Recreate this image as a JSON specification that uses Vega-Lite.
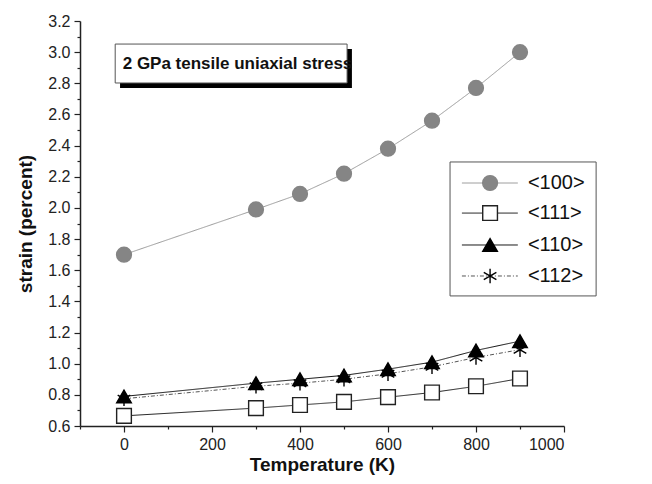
{
  "$schema": "https://vega.github.io/schema/vega-lite/v6.json",
  "autosize": {"type": "none"},
  "width": 484,
  "height": 405,
  "padding": {"left": 80, "top": 21, "right": 88, "bottom": 58},
  "background": "white",
  "config": {
    "font": "Liberation Sans",
    "view": {"stroke": null},
    "axis": {"grid": false, "domainColor": "#222", "tickColor": "#222", "domainWidth": 1.5, "tickWidth": 1.2, "labelFont": "Liberation Sans", "labelFontSize": 16, "labelColor": "#222", "titleFont": "Liberation Sans", "titleFontSize": 19, "titleFontWeight": "bold", "titleColor": "#111"}
  },
  "resolve": {"axis": {"y": "independent"}},
  "datasets": {
    "series": [
      {"T": 0, "strain": 1.70, "s": "<100>"},
      {"T": 300, "strain": 1.99, "s": "<100>"},
      {"T": 400, "strain": 2.09, "s": "<100>"},
      {"T": 500, "strain": 2.22, "s": "<100>"},
      {"T": 600, "strain": 2.38, "s": "<100>"},
      {"T": 700, "strain": 2.56, "s": "<100>"},
      {"T": 800, "strain": 2.77, "s": "<100>"},
      {"T": 900, "strain": 3.00, "s": "<100>"},
      {"T": 0, "strain": 0.665, "s": "<111>"},
      {"T": 300, "strain": 0.715, "s": "<111>"},
      {"T": 400, "strain": 0.735, "s": "<111>"},
      {"T": 500, "strain": 0.755, "s": "<111>"},
      {"T": 600, "strain": 0.785, "s": "<111>"},
      {"T": 700, "strain": 0.815, "s": "<111>"},
      {"T": 800, "strain": 0.855, "s": "<111>"},
      {"T": 900, "strain": 0.905, "s": "<111>"},
      {"T": 0, "strain": 0.79, "s": "<110>"},
      {"T": 300, "strain": 0.875, "s": "<110>"},
      {"T": 400, "strain": 0.90, "s": "<110>"},
      {"T": 500, "strain": 0.925, "s": "<110>"},
      {"T": 600, "strain": 0.965, "s": "<110>"},
      {"T": 700, "strain": 1.01, "s": "<110>"},
      {"T": 800, "strain": 1.085, "s": "<110>"},
      {"T": 900, "strain": 1.145, "s": "<110>"},
      {"T": 0, "strain": 0.775, "s": "<112>"},
      {"T": 300, "strain": 0.855, "s": "<112>"},
      {"T": 400, "strain": 0.875, "s": "<112>"},
      {"T": 500, "strain": 0.90, "s": "<112>"},
      {"T": 600, "strain": 0.935, "s": "<112>"},
      {"T": 700, "strain": 0.98, "s": "<112>"},
      {"T": 800, "strain": 1.04, "s": "<112>"},
      {"T": 900, "strain": 1.09, "s": "<112>"}
    ],
    "legend": [
      {"s": "<100>", "y": 2.16, "x1": 768, "x2": 895, "xs": 832, "xt": 918},
      {"s": "<111>", "y": 1.967, "x1": 768, "x2": 895, "xs": 832, "xt": 918},
      {"s": "<110>", "y": 1.762, "x1": 768, "x2": 895, "xs": 832, "xt": 918},
      {"s": "<112>", "y": 1.563, "x1": 768, "x2": 895, "xs": 832, "xt": 918}
    ]
  },
  "layer": [
    {
      "data": {"name": "series"},
      "mark": {"type": "line", "strokeWidth": 1},
      "encoding": {
        "x": {"field": "T", "type": "quantitative", "scale": {"domain": [-100, 1000], "nice": false, "zero": false},
          "title": "Temperature (K)",
          "axis": {"values": [-100, 0, 100, 200, 300, 400, 500, 600, 700, 800, 900, 1000],
            "format": "d",
            "labelOverlap": false,
            "labelExpr": "datum.value % 200 === 0 ? datum.label : ''",
            "tickSize": {"condition": {"test": "datum.value % 200 === 0", "value": 6}, "value": 3},
            "labelPadding": 4, "titlePadding": 3}},
        "y": {"field": "strain", "type": "quantitative", "scale": {"domain": [0.6, 3.2], "nice": false, "zero": false},
          "title": "strain (percent)",
          "axis": {"orient": "left", "values": [0.6, 0.8, 1.0, 1.2, 1.4, 1.6, 1.8, 2.0, 2.2, 2.4, 2.6, 2.8, 3.0, 3.2],
            "format": ".1f",
            "labelOverlap": false,
            "tickSize": 6,
            "labelPadding": 4, "titlePadding": 12}},
        "detail": {"field": "s"},
        "color": {"field": "s", "type": "nominal", "scale": {"domain": ["<100>", "<111>", "<110>", "<112>"], "range": ["#9a9a9a", "#222222", "#111111", "#555555"]}, "legend": null},
        "strokeDash": {"field": "s", "type": "nominal", "scale": {"domain": ["<100>", "<111>", "<110>", "<112>"], "range": [[1, 0], [1, 0], [1, 0], [4, 2, 1, 2]]}, "legend": null}
      }
    },
    {
      "data": {"values": [{"x": -9, "x2": 518, "y": 3.02, "y2": 2.77}]},
      "mark": {"type": "rect", "fill": "black"},
      "encoding": {
        "x": {"field": "x", "type": "quantitative"},
        "x2": {"field": "x2"},
        "y": {"field": "y", "type": "quantitative", "axis": null},
        "y2": {"field": "y2"}
      }
    },
    {
      "data": {"values": [{"x": -20, "x2": 507, "y": 3.052, "y2": 2.802}]},
      "mark": {"type": "rect", "fill": "white", "stroke": "#555", "strokeWidth": 1},
      "encoding": {
        "x": {"field": "x", "type": "quantitative"},
        "x2": {"field": "x2"},
        "y": {"field": "y", "type": "quantitative", "axis": null},
        "y2": {"field": "y2"}
      }
    },
    {
      "data": {"values": [{"x": 258, "y": 2.924, "t": "2 GPa tensile uniaxial stress"}]},
      "mark": {"type": "text", "fontSize": 17, "fontWeight": "bold", "font": "Liberation Sans", "color": "#111", "align": "center", "baseline": "middle"},
      "encoding": {
        "x": {"field": "x", "type": "quantitative"},
        "y": {"field": "y", "type": "quantitative", "axis": null},
        "text": {"field": "t"}
      }
    },
    {
      "data": {"name": "series"},
      "mark": {"type": "point", "filled": false, "opacity": 1, "strokeWidth": 1.4},
      "encoding": {
        "x": {"field": "T", "type": "quantitative"},
        "y": {"field": "strain", "type": "quantitative",
          "axis": {"orient": "left", "title": null, "labels": false, "domain": false, "tickSize": 3,
            "values": [0.7, 0.9, 1.1, 1.3, 1.5, 1.7, 1.9, 2.1, 2.3, 2.5, 2.7, 2.9, 3.1]}},
        "shape": {"field": "s", "type": "nominal", "scale": {"domain": ["<100>", "<111>", "<110>", "<112>"], "range": ["circle", "square", "triangle-up", "M0,-1L0,1M-0.87,-0.5L0.87,0.5M-0.87,0.5L0.87,-0.5"]}, "legend": null},
        "fill": {"field": "s", "type": "nominal", "scale": {"domain": ["<100>", "<111>", "<110>", "<112>"], "range": ["#858585", "white", "black", "transparent"]}, "legend": null},
        "stroke": {"field": "s", "type": "nominal", "scale": {"domain": ["<100>", "<111>", "<110>", "<112>"], "range": ["#858585", "#222", "black", "black"]}, "legend": null},
        "size": {"field": "s", "type": "nominal", "scale": {"domain": ["<100>", "<111>", "<110>", "<112>"], "range": [220, 210, 280, 340]}, "legend": null}
      }
    },
    {
      "data": {"values": [{"x": 741, "x2": 1073, "y": 2.295, "y2": 1.435}]},
      "mark": {"type": "rect", "fill": "white", "stroke": "#555", "strokeWidth": 1},
      "encoding": {
        "x": {"field": "x", "type": "quantitative"},
        "x2": {"field": "x2"},
        "y": {"field": "y", "type": "quantitative", "axis": null},
        "y2": {"field": "y2"}
      }
    },
    {
      "data": {"name": "legend"},
      "mark": {"type": "rule", "strokeWidth": 1},
      "encoding": {
        "x": {"field": "x1", "type": "quantitative"},
        "x2": {"field": "x2"},
        "y": {"field": "y", "type": "quantitative", "axis": null},
        "color": {"field": "s", "type": "nominal", "legend": null},
        "strokeDash": {"field": "s", "type": "nominal", "legend": null}
      }
    },
    {
      "data": {"name": "legend"},
      "mark": {"type": "point", "filled": false, "opacity": 1, "strokeWidth": 1.4},
      "encoding": {
        "x": {"field": "xs", "type": "quantitative"},
        "y": {"field": "y", "type": "quantitative", "axis": null},
        "shape": {"field": "s", "type": "nominal", "legend": null},
        "fill": {"field": "s", "type": "nominal", "legend": null},
        "stroke": {"field": "s", "type": "nominal", "legend": null},
        "size": {"field": "s", "type": "nominal", "legend": null}
      }
    },
    {
      "data": {"name": "legend"},
      "mark": {"type": "text", "fontSize": 20, "font": "Liberation Sans", "color": "#111", "align": "left", "baseline": "middle"},
      "encoding": {
        "x": {"field": "xt", "type": "quantitative"},
        "y": {"field": "y", "type": "quantitative", "axis": null},
        "text": {"field": "s"}
      }
    }
  ]
}
